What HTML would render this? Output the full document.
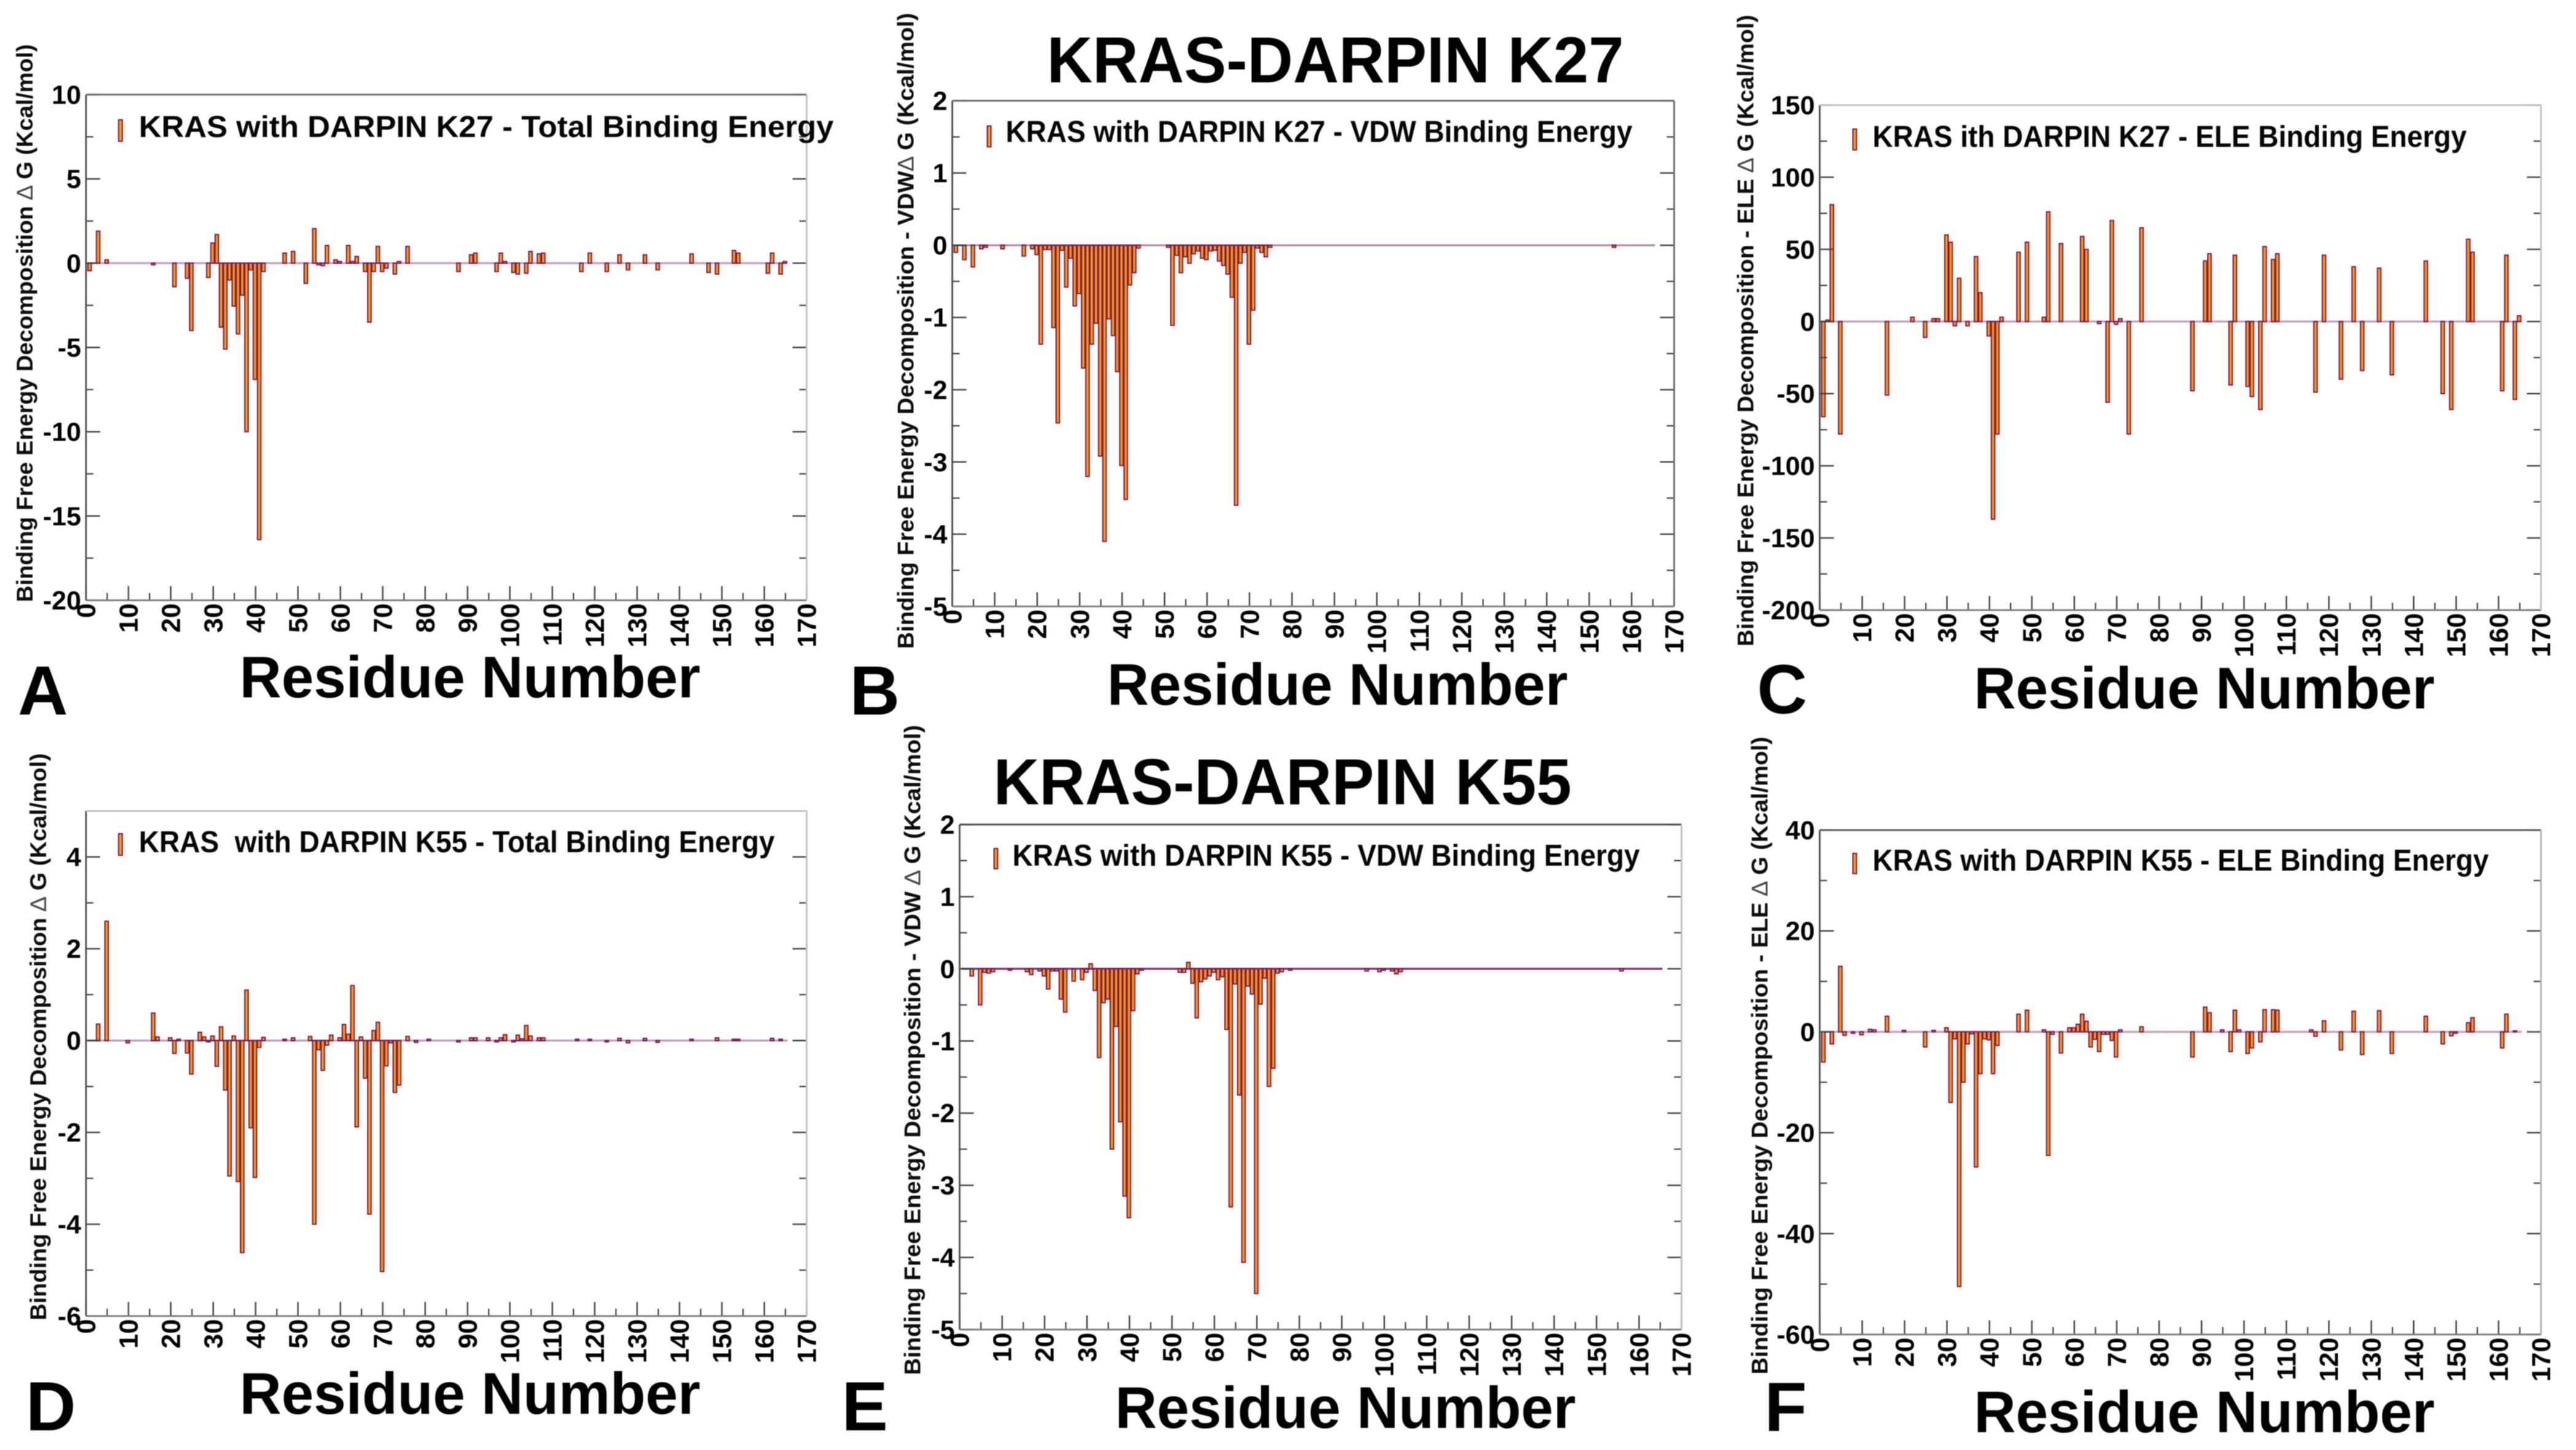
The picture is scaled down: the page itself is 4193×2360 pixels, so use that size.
<!DOCTYPE html>
<html lang="en">
<head>
<meta charset="utf-8">
<title>KRAS-DARPIN binding free energy decomposition</title>
<style>
html,body{margin:0;padding:0;background:#fff;width:4193px;height:2360px;overflow:hidden}
svg{display:block;filter:blur(0.9px)}
text{font-family:"Liberation Sans",sans-serif;font-weight:700;fill:#000}
.big{font-size:96px}
.title{font-size:106px}
.letter{font-size:113px}
.legend{font-size:49px;fill:#050505}
.ytitle{font-size:37px;fill:#0c0c0c}
.delta{font-weight:400;fill:#444}
.tick{font-size:43px;fill:#000}
</style>
</head>
<body>
<svg id="figure" xmlns="http://www.w3.org/2000/svg" width="4193" height="2360" viewBox="0 0 4193 2360">
  <rect x="0" y="0" width="4193" height="2360" fill="#fff"/>

  <text class="title" x="1704" y="134" textLength="939" lengthAdjust="spacingAndGlyphs">KRAS-DARPIN K27</text>
  <text class="title" x="1617" y="1309" textLength="941" lengthAdjust="spacingAndGlyphs">KRAS-DARPIN K55</text>

  <text class="letter" x="29" y="1163">A</text>
  <text class="letter" x="1383" y="1163">B</text>
  <text class="letter" x="2860" y="1161">C</text>
  <text class="letter" x="42" y="2328">D</text>
  <text class="letter" x="1370" y="2328">E</text>
  <text class="letter" x="2872" y="2329">F</text>

  <text class="big" x="390" y="1135" textLength="750" lengthAdjust="spacingAndGlyphs">Residue Number</text>
  <text class="big" x="1802" y="1147" textLength="750" lengthAdjust="spacingAndGlyphs">Residue Number</text>
  <text class="big" x="3213" y="1153" textLength="750" lengthAdjust="spacingAndGlyphs">Residue Number</text>
  <text class="big" x="390" y="2301" textLength="750" lengthAdjust="spacingAndGlyphs">Residue Number</text>
  <text class="big" x="1815" y="2324" textLength="750" lengthAdjust="spacingAndGlyphs">Residue Number</text>
  <text class="big" x="3213" y="2331" textLength="750" lengthAdjust="spacingAndGlyphs">Residue Number</text>

  <text class="ytitle" transform="translate(53,980) rotate(-90)" textLength="908" lengthAdjust="spacingAndGlyphs">Binding Free Energy Decomposition <tspan class="delta">∆</tspan> G (Kcal/mol)</text>
  <text class="ytitle" transform="translate(1487,1056) rotate(-90)" textLength="1035" lengthAdjust="spacingAndGlyphs">Binding Free Energy Decomposition  - VDW<tspan class="delta">∆</tspan> G (Kcal/mol)</text>
  <text class="ytitle" transform="translate(2854,1052) rotate(-90)" textLength="1028" lengthAdjust="spacingAndGlyphs">Binding Free Energy Decomposition  - ELE <tspan class="delta">∆</tspan> G (Kcal/mol)</text>
  <text class="ytitle" transform="translate(75,2149) rotate(-90)" textLength="923" lengthAdjust="spacingAndGlyphs">Binding Free Energy Decomposition  <tspan class="delta">∆</tspan> G (Kcal/mol)</text>
  <text class="ytitle" transform="translate(1498,2238) rotate(-90)" textLength="1058" lengthAdjust="spacingAndGlyphs">Binding Free Energy Decomposition  - VDW  <tspan class="delta">∆</tspan> G (Kcal/mol)</text>
  <text class="ytitle" transform="translate(2877,2237) rotate(-90)" textLength="1038" lengthAdjust="spacingAndGlyphs">Binding Free Energy Decomposition  - ELE  <tspan class="delta">∆</tspan> G (Kcal/mol)</text>

  <g id="plots"></g>

  <g>
    <rect x="193" y="195" width="6" height="35" fill="#fb9e00" stroke="#7a1460" stroke-width="2"/>
    <text class="legend" x="226" y="223" textLength="1131" lengthAdjust="spacingAndGlyphs">KRAS with DARPIN K27 - Total Binding Energy</text>
  </g>
  <g>
    <rect x="1607" y="205" width="6" height="34" fill="#fb9e00" stroke="#7a1460" stroke-width="2"/>
    <text class="legend" x="1637" y="231" textLength="1020" lengthAdjust="spacingAndGlyphs">KRAS with DARPIN K27 - VDW Binding Energy</text>
  </g>
  <g>
    <rect x="3016" y="210" width="6" height="34" fill="#fb9e00" stroke="#7a1460" stroke-width="2"/>
    <text class="legend" x="3048" y="239" textLength="967" lengthAdjust="spacingAndGlyphs">KRAS ith DARPIN K27 - ELE Binding Energy</text>
  </g>
  <g>
    <rect x="193" y="1357" width="6" height="35" fill="#fb9e00" stroke="#7a1460" stroke-width="2"/>
    <text class="legend" x="226" y="1387" textLength="1035" lengthAdjust="spacingAndGlyphs" xml:space="preserve">KRAS  with DARPIN K55 - Total Binding Energy</text>
  </g>
  <g>
    <rect x="1618" y="1381" width="6" height="33" fill="#fb9e00" stroke="#7a1460" stroke-width="2"/>
    <text class="legend" x="1648" y="1409" textLength="1021" lengthAdjust="spacingAndGlyphs">KRAS with DARPIN K55 - VDW Binding Energy</text>
  </g>
  <g>
    <rect x="3016" y="1389" width="6" height="33" fill="#fb9e00" stroke="#7a1460" stroke-width="2"/>
    <text class="legend" x="3048" y="1417" textLength="1003" lengthAdjust="spacingAndGlyphs">KRAS with DARPIN K55 - ELE Binding Energy</text>
  </g>
</svg>

<script>
const xTicks = [0,10,20,30,40,50,60,70,80,90,100,110,120,130,140,150,160,170];

const aYTicks = [10,5,0,-5,-10,-15,-20];
const aResidues = [1,3,5,16,21,24,25,29,30,31,32,33,34,35,36,37,38,39,40,41,42,47,49,52,54,55,56,57,59,60,62,63,64,66,67,68,69,70,71,73,74,76,88,91,92,97,98,99,101,102,104,105,107,108,117,119,123,126,128,132,135,143,147,149,153,154,161,162,164,165];
const aValues = [-0.45,1.9,0.2,-0.1,-1.4,-0.9,-4.0,-0.85,1.2,1.7,-3.8,-5.1,-1.0,-2.55,-4.2,-1.9,-10,-0.4,-6.9,-16.4,-0.5,0.6,0.7,-1.2,2.05,-0.1,-0.15,1.05,0.2,0.1,1.05,0.1,0.4,-0.5,-3.5,-0.5,1.0,-0.5,-0.3,-0.65,0.1,1.0,-0.5,0.5,0.6,-0.5,0.6,0.1,-0.55,-0.65,-0.6,0.7,0.55,0.6,-0.5,0.6,-0.5,0.5,-0.4,0.5,-0.4,0.55,-0.55,-0.65,0.75,0.6,-0.6,0.6,-0.65,0.1];

const bYTicks = [2,1,0,-1,-2,-3,-4,-5];
const bResidues = [1,3,5,7,8,12,17,19,20,21,22,23,24,25,26,27,28,29,30,31,32,33,34,35,36,37,38,39,40,41,42,43,44,51,52,53,54,55,56,57,58,59,60,61,62,63,64,65,66,67,68,69,70,71,72,73,74,75,156];
const bValues = [-0.1,-0.2,-0.3,-0.05,-0.03,-0.05,-0.15,-0.05,-0.13,-1.37,-0.06,-0.06,-1.14,-2.46,-0.07,-0.58,-0.18,-0.84,-0.67,-1.7,-3.2,-1.37,-1.08,-2.92,-4.1,-1.02,-1.25,-1.75,-3.05,-3.52,-0.55,-0.38,-0.04,-0.03,-1.11,-0.14,-0.38,-0.16,-0.25,-0.12,-0.08,-0.18,-0.2,-0.08,-0.07,-0.22,-0.28,-0.4,-0.72,-3.6,-0.25,-0.1,-1.37,-0.9,-0.04,-0.1,-0.16,-0.03,-0.03];

const cYTicks = [150,100,50,0,-50,-100,-150,-200];
const cResidues = [1,2,3,5,16,22,25,27,28,30,31,32,33,35,37,38,40,41,42,43,47,49,53,54,57,62,63,66,68,69,70,71,73,76,88,91,92,97,98,101,102,104,105,107,108,117,119,123,126,128,132,135,143,147,149,153,154,161,162,164,165];
const cValues = [-66,1,81,-78,-51,3,-11,2,2,60,55,-3,30,-3,45,20,-10,-137,-78,3,48,55,3,76,54,59,50,-1.5,-56,70,-2,2,-78,65,-48,42,47,-44,46,-45,-52,-61,52,43,47,-49,46,-40,38,-34,37,-37,42,-50,-61,57,48,-48,46,-54,4];

const dYTicks = [4,2,0,-2,-4,-6];
const dResidues = [3,5,10,16,17,20,21,22,24,25,27,28,29,30,31,32,33,34,35,36,37,38,39,40,41,42,47,49,53,54,55,56,57,58,60,61,62,63,64,65,66,67,68,69,70,71,72,73,74,76,78,81,88,91,92,95,97,98,99,101,102,103,104,105,107,108,116,119,123,126,128,132,135,143,149,153,154,162,164];
const dValues = [0.36,2.6,-0.05,0.6,0.08,0.06,-0.28,0.03,-0.27,-0.73,0.18,0.08,-0.03,0.1,-0.56,0.3,-1.08,-2.95,0.1,-3.07,-4.62,1.1,-1.9,-2.98,-0.15,0.07,0.03,0.06,0.09,-4.0,-0.2,-0.65,-0.1,0.12,0.06,0.35,0.14,1.2,-1.88,0.08,-0.82,-3.78,0.22,0.4,-5.03,-0.55,-0.05,-1.13,-0.97,0.09,-0.04,0.03,-0.03,0.06,0.06,0.06,-0.03,0.06,0.13,-0.03,0.12,0.04,0.33,0.1,0.06,0.06,0.03,0.03,-0.03,0.05,-0.05,0.05,-0.04,0.03,0.06,0.03,0.03,0.05,0.03];

const eYTicks = [2,1,0,-1,-2,-3,-4,-5];
const eResidues = [3,5,6,7,8,12,16,17,19,20,21,22,23,24,25,27,29,30,31,32,33,34,35,36,37,38,39,40,41,42,43,52,53,54,55,56,57,58,59,60,61,62,63,64,65,66,67,68,69,70,71,72,73,74,75,76,78,96,99,100,102,103,104,156];
const eValues = [-0.1,-0.5,-0.05,-0.06,-0.04,-0.02,-0.04,-0.08,-0.03,-0.1,-0.28,-0.03,-0.03,-0.42,-0.6,-0.17,-0.15,-0.05,0.07,-0.3,-1.23,-0.47,-0.42,-2.5,-0.8,-2.12,-3.15,-3.45,-0.58,-0.07,-0.02,-0.05,-0.05,0.09,-0.2,-0.68,-0.18,-0.14,-0.1,-0.05,-0.15,-0.11,-0.84,-3.3,-0.21,-1.75,-4.07,-0.24,-0.35,-4.5,-0.49,-0.13,-1.63,-1.38,-0.06,-0.04,-0.02,-0.03,-0.04,-0.02,-0.03,-0.07,-0.04,-0.03];

const fYTicks = [40,20,0,-20,-40,-60];
const fResidues = [1,3,5,6,8,10,12,13,16,20,25,27,30,31,32,33,34,35,36,37,38,39,40,41,42,47,49,53,54,55,57,59,60,61,62,63,64,65,66,67,68,69,70,71,76,88,91,92,95,97,98,99,101,102,104,105,107,108,116,117,119,123,126,128,132,135,143,147,149,150,153,154,161,162,164];
const fValues = [-6,-2.4,13,-0.7,-0.3,-0.6,0.5,0.4,3.1,0.3,-3,0.3,0.8,-14,-1.4,-50.5,-10,-2.4,-0.4,-26.8,-8.3,-1.4,-1.6,-8.3,-2.7,3.5,4.3,0.4,-24.5,-0.5,-4.2,0.8,0.8,1.5,3.5,2.1,-3,-1.5,-3.9,-0.5,-0.5,-1.7,-5,0.4,1,-5,4.9,3.8,0.4,-3.9,4.3,0.4,-4.3,-3.2,-2,4.4,4.4,4.3,0.4,-0.9,2.2,-3.6,4.1,-4.5,4.2,-4.3,3.1,-2.4,-0.8,-0.3,1.8,2.8,-3.2,3.5,0.2];

const SVG_NS = 'http://www.w3.org/2000/svg';
const plots = document.getElementById('plots');

function make(tag, parent, attrs) {
  const el = document.createElementNS(SVG_NS, tag);
  for (const k in attrs) el.setAttribute(k, attrs[k]);
  parent.appendChild(el);
  return el;
}

function drawPanel(id, left, right, top, bottom, yMax, yTicks, residues, values, style) {
  const xMax = xTicks[xTicks.length - 1];
  const yMin = yTicks[yTicks.length - 1];
  const xScale = function (v) { return left + (right - left) * v / xMax; };
  const yScale = function (v) { return top + (bottom - top) * (yMax - v) / (yMax - yMin); };

  const g = make('g', plots, {});
  
  

  const baseline = make('line', g, {
    x1: xScale(0.5), x2: xScale(165.5), y1: yScale(0), y2: yScale(0),
    stroke: style.baseline, 'stroke-width': 3.4
  });
  
  

  residues.forEach(function (r, i) {
    const y0 = yScale(0);
    const y1 = yScale(values[i]);
    const bar = make('rect', g, {
      x: xScale(r) - 3.8,
      y: Math.min(y0, y1),
      width: 5.6,
      height: Math.max(Math.abs(y1 - y0), 0.5),
      fill: '#fb9e00',
      stroke: '#7a1460',
      'stroke-width': 2
    });
    
    
  });

  const tickStroke = '#404040';
  const majorLen = 23;
  const minorLen = 12;

  xTicks.forEach(function (t, i) {
    const x = xScale(t);
    const major = make('line', g, { x1: x, x2: x, y1: bottom, y2: bottom - majorLen, stroke: tickStroke, 'stroke-width': 2.4 });
    
    
    if (i < xTicks.length - 1) {
      const mx = xScale((t + xTicks[i + 1]) / 2);
      const minor = make('line', g, { x1: mx, x2: mx, y1: bottom, y2: bottom - minorLen, stroke: tickStroke, 'stroke-width': 2.2 });
      
      
    }
    const label = make('text', g, {
      class: 'tick',
      transform: 'translate(' + (x + 15) + ',' + (bottom + 5) + ') rotate(-90)',
      'text-anchor': 'end'
    });
    label.textContent = String(t);
    
    
  });

  yTicks.forEach(function (t, i) {
    const y = yScale(t);
    [[left, left + majorLen], [right, right - majorLen]].forEach(function (p) {
      const major = make('line', g, { x1: p[0], x2: p[1], y1: y, y2: y, stroke: tickStroke, 'stroke-width': 2.4 });
      
      
    });
    if (i < yTicks.length - 1) {
      const my = yScale((t + yTicks[i + 1]) / 2);
      [[left, left + minorLen], [right, right - minorLen]].forEach(function (p) {
        const minor = make('line', g, { x1: p[0], x2: p[1], y1: my, y2: my, stroke: tickStroke, 'stroke-width': 2.2 });
        
        
      });
    }
    const label = make('text', g, { class: 'tick', x: left - 8, y: y + 15, 'text-anchor': 'end' });
    label.textContent = String(t);
    
    
  });

  const edges = [
    [left, top, left, bottom, '#4a4a4a'],
    [left, top, right, top, style.topEdge],
    [left, bottom, right, bottom, '#777777'],
    [right, top, right, bottom, style.rightEdge]
  ];
  edges.forEach(function (e) {
    const edge = make('line', g, { x1: e[0], y1: e[1], x2: e[2], y2: e[3], stroke: e[4], 'stroke-width': 2.8 });
    
    
  });
}

drawPanel('a', 140, 1313, 154, 977, 10, aYTicks, aResidues, aValues, { baseline: '#c4a2bf', topEdge: '#666666', rightEdge: '#c0c0c0' });
drawPanel('b', 1550, 2725, 164, 987, 2, bYTicks, bResidues, bValues, { baseline: '#b48fb0', topEdge: '#666666', rightEdge: '#666666' });
drawPanel('c', 2962, 4136, 171, 993, 150, cYTicks, cResidues, cValues, { baseline: '#c4a2bf', topEdge: '#c0c0c0', rightEdge: '#c0c0c0' });
drawPanel('d', 140, 1313, 1320, 2142, 5, dYTicks, dResidues, dValues, { baseline: '#c4a2bf', topEdge: '#bdbdbd', rightEdge: '#c0c0c0' });
drawPanel('e', 1562, 2737, 1342, 2164, 2, eYTicks, eResidues, eValues, { baseline: '#7d3573', topEdge: '#444444', rightEdge: '#bdbdbd' });
drawPanel('f', 2962, 4136, 1351, 2172, 40, fYTicks, fResidues, fValues, { baseline: '#c4a2bf', topEdge: '#555555', rightEdge: '#b0b0b0' });
</script>
</body>
</html>
